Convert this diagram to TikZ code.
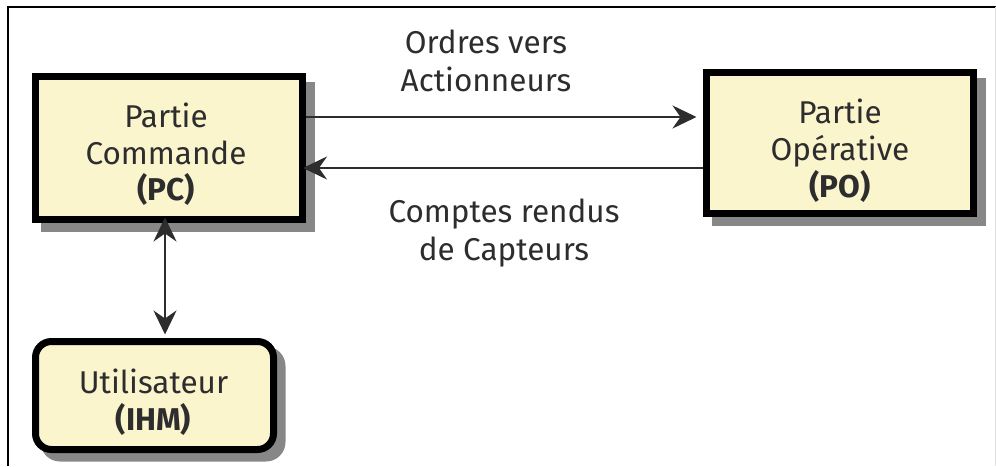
\documentclass[tikz,border=0pt]{standalone}
\usepackage{fontspec}
\setmainfont{Fira Sans}
\usetikzlibrary{arrows.meta,shadows}

\definecolor{boxfill}{RGB}{250,245,205}
\definecolor{shadowgray}{RGB}{135,135,135}
\definecolor{ink}{RGB}{45,45,45}

\tikzset{
  block/.style={draw=black, fill=boxfill, line width=7pt, inner sep=0pt,
    general shadow={draw=shadowgray, fill=shadowgray, line width=7pt,
      shadow xshift=8.5pt, shadow yshift=-8.5pt}},
  txt/.style={anchor=base, inner sep=0pt, text=ink, font=\fontsize{31.5}{37}\selectfont},
  btxt/.style={txt, font=\fontsize{31.5}{37}\selectfont\bfseries},
  tip/.tip={Stealth[length=24pt, width=23pt, inset=8pt]},
  flow/.style={draw=ink, line width=2.5pt, -tip},
  flow2/.style={draw=ink, line width=2.5pt, tip-tip},
}

\begin{document}
\begin{tikzpicture}[x=1pt, y=-1pt]
  \useasboundingbox (0,0) rectangle (996,466);

  % frame: top and left rules, faint right edge
  \draw[line width=2pt, black] (7.5,466) -- (7.5,6.5) -- (996,6.5);
  \draw[line width=1pt, black!12] (995.5,6.5) -- (995.5,466);

  % blocks
  \node[block, minimum width=267pt, minimum height=143pt] (pc) at (169,148) {};
  \node[block, minimum width=267pt, minimum height=141pt] (po) at (840,143) {};
  \node[block, rounded corners=16pt, minimum width=238pt, minimum height=108pt] (ui) at (154.5,395.5) {};

  % connectors
  \draw[flow, shorten >=6.5pt] (pc.east |- 0,117) -- (po.west |- 0,117);
  \draw[flow, shorten >=-3pt] (po.west |- 0,168) -- (pc.east |- 0,168);
  \draw[flow2, shorten <=-5.5pt, shorten >=3.5pt] (pc.south -| 165,0) -- (ui.north -| 165,0);

  % texts inside the blocks
  \node[txt] (pc1) at (166,127) {Partie};
  \node[txt] (pc2) at (166,164) {Commande};
  \node[btxt] (pc3) at (166,200) {(PC)};

  \node[txt] (po1) at (840,123) {Partie};
  \node[txt] (po2) at (840,160) {Opérative};
  \node[btxt] (po3) at (840,197) {(PO)};

  \node[txt] (ui1) at (153.5,393) {Utilisateur};
  \node[btxt] (ui2) at (153.5,430) {(IHM)};

  % connector labels
  \node[txt] (o1) at (486,53) {Ordres vers};
  \node[txt] (o2) at (486,91) {Actionneurs};
  \node[txt] (c1) at (504,222) {Comptes rendus};
  \node[txt] (c2) at (504,260) {de Capteurs};
\end{tikzpicture}
\end{document}
